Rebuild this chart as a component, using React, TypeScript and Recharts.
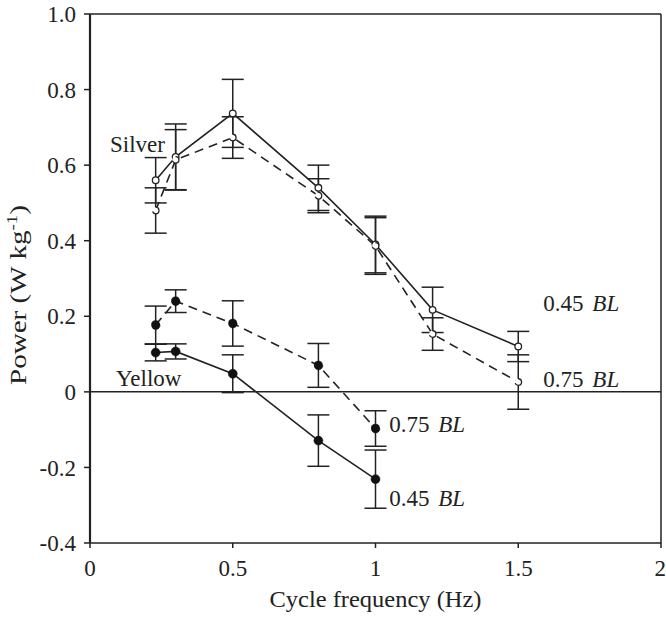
import React from 'react';
import {
  LineChart,
  Line,
  XAxis,
  YAxis,
  ErrorBar,
  ReferenceLine,
  ReferenceDot,
} from 'recharts';

// cycle frequencies (Hz)
const silverFreq = [0.23, 0.3, 0.5, 0.8, 1.0, 1.2, 1.5];
const yellowFreq = [0.23, 0.3, 0.5, 0.8, 1.0];

// power (W/kg) and error
const silver045 = [0.56, 0.622, 0.737, 0.54, 0.39, 0.217, 0.12];
const silver045Err = [0.06, 0.087, 0.09, 0.06, 0.075, 0.06, 0.04];
const silver075 = [0.48, 0.614, 0.673, 0.519, 0.386, 0.153, 0.026];
const silver075Err = [0.06, 0.08, 0.055, 0.045, 0.075, 0.043, 0.072];

const yellow045 = [0.104, 0.107, 0.048, -0.129, -0.231];
const yellow045Err = [0.022, 0.02, 0.05, 0.068, 0.077];
const yellow075 = [0.177, 0.24, 0.181, 0.07, -0.097];
const yellow075Err = [0.05, 0.03, 0.06, 0.058, 0.047];

const xTicks = [0, 0.5, 1, 1.5, 2];
const yTicks = [-0.4, -0.2, 0, 0.2, 0.4, 0.6, 0.8, 1.0];

// text annotations, in data units
const notes = [
  { x: 0.07, y: 0.635, text: 'Silver', italic: '' },
  { x: 0.091, y: 0.016, text: 'Yellow', italic: '' },
  { x: 1.588, y: 0.214, text: '0.45 ', italic: 'BL' },
  { x: 1.588, y: 0.014, text: '0.75 ', italic: 'BL' },
  { x: 1.048, y: -0.105, text: '0.75 ', italic: 'BL' },
  { x: 1.048, y: -0.303, text: '0.45 ', italic: 'BL' },
];

const build = (xs: number[], ys: number[], es: number[]) =>
  xs.map((x, i) => ({ x, y: ys[i], err: es[i] }));

const FONT = '"Liberation Serif", "Times New Roman", serif';
const INK = '#222';

const openDot = { r: 3.3, fill: '#fff', stroke: INK, strokeWidth: 1.3 };
const filledDot = { r: 4.5, fill: '#111', stroke: '#111', strokeWidth: 0.5 };

const NoteLabel = (note: { text: string; italic: string }) => (props: any) => {
  const { viewBox } = props;
  return (
    <text x={viewBox.x} y={viewBox.y} fontFamily={FONT} fontSize={23} fill={INK}>
      {note.text}
      {note.italic && (
        <tspan fontStyle="italic" dx={3}>
          {note.italic}
        </tspan>
      )}
    </text>
  );
};

const YLabel = (props: any) => {
  const cy = 295;
  const cx = 26;
  return (
    <text
      x={cx}
      y={cy}
      transform={`rotate(-90, ${cx}, ${cy})`}
      textAnchor="middle"
      fontFamily={FONT}
      fontSize={23}
      fill={INK}
      textLength={180}
      lengthAdjust="spacingAndGlyphs"
    >
      Power (W kg
      <tspan fontSize={15} dy={-9}>
        -1
      </tspan>
      <tspan dy={9}>)</tspan>
    </text>
  );
};

const XLabel = (props: any) => {
  const { viewBox } = props;
  return (
    <text
      x={viewBox.x + viewBox.width / 2}
      y={607}
      textAnchor="middle"
      fontFamily={FONT}
      fontSize={23}
      fill={INK}
      textLength={212}
      lengthAdjust="spacingAndGlyphs"
    >
      Cycle frequency (Hz)
    </text>
  );
};

const tickStyle = { fontSize: 23, fill: INK, fontFamily: FONT };

export default function App() {
  return (
    <div style={{ position: 'absolute', left: 0, top: 0, width: 666, height: 617, background: '#fff' }}>
      <LineChart width={666} height={617} margin={{ top: 14, right: 5, left: 30, bottom: 14 }}>
        <XAxis
          type="number"
          dataKey="x"
          domain={[0, 2]}
          ticks={xTicks}
          tickFormatter={(v: number) => String(v)}
          tick={tickStyle}
          tickSize={5}
          tickMargin={12}
          height={60}
          axisLine={{ stroke: INK, strokeWidth: 1.5 }}
          tickLine={{ stroke: INK, strokeWidth: 1.5 }}
          allowDataOverflow
          label={<XLabel />}
        />
        <YAxis
          type="number"
          domain={[-0.4, 1]}
          ticks={yTicks}
          tickFormatter={(v: number) => (v === 0 ? '0' : v.toFixed(1))}
          tick={tickStyle}
          tickSize={6}
          tickMargin={8}
          width={60}
          axisLine={{ stroke: INK, strokeWidth: 2.2 }}
          tickLine={{ stroke: INK, strokeWidth: 1.5 }}
          allowDataOverflow
          label={<YLabel />}
        />
        <ReferenceLine y={1} stroke={INK} strokeWidth={1.5} />
        <ReferenceLine x={2} stroke={INK} strokeWidth={1.5} />
        <ReferenceLine y={0} stroke={INK} strokeWidth={1.5} />

        <Line
          data={build(silverFreq, silver045, silver045Err)}
          dataKey="y"
          stroke={INK}
          strokeWidth={1.6}
          dot={openDot}
          activeDot={false}
          isAnimationActive={false}
        >
          <ErrorBar dataKey="err" direction="y" width={11} stroke={INK} strokeWidth={1.5} isAnimationActive={false} />
        </Line>
        <Line
          data={build(silverFreq, silver075, silver075Err)}
          dataKey="y"
          stroke={INK}
          strokeWidth={1.6}
          strokeDasharray="9 6"
          dot={openDot}
          activeDot={false}
          isAnimationActive={false}
        >
          <ErrorBar dataKey="err" direction="y" width={11} stroke={INK} strokeWidth={1.5} isAnimationActive={false} />
        </Line>
        <Line
          data={build(yellowFreq, yellow045, yellow045Err)}
          dataKey="y"
          stroke={INK}
          strokeWidth={1.6}
          dot={filledDot}
          activeDot={false}
          isAnimationActive={false}
        >
          <ErrorBar dataKey="err" direction="y" width={11} stroke={INK} strokeWidth={1.5} isAnimationActive={false} />
        </Line>
        <Line
          data={build(yellowFreq, yellow075, yellow075Err)}
          dataKey="y"
          stroke={INK}
          strokeWidth={1.6}
          strokeDasharray="9 6"
          dot={filledDot}
          activeDot={false}
          isAnimationActive={false}
        >
          <ErrorBar dataKey="err" direction="y" width={11} stroke={INK} strokeWidth={1.5} isAnimationActive={false} />
        </Line>

        {notes.map((n, i) => (
          <ReferenceDot
            key={i}
            x={n.x}
            y={n.y}
            r={0}
            fill="none"
            stroke="none"
            label={NoteLabel(n)}
          />
        ))}
      </LineChart>
    </div>
  );
}
